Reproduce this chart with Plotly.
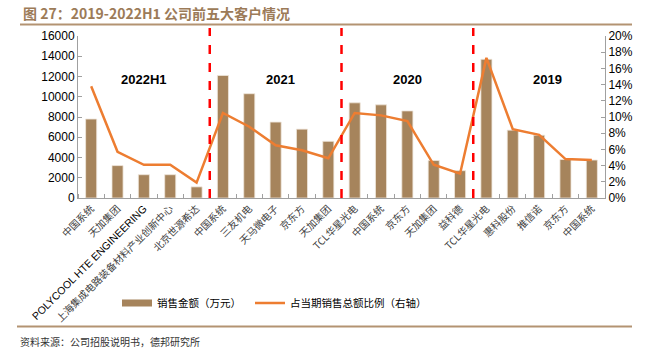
import plotly.graph_objects as go

categories = ["中国系统", "天加集团", "POLYCOOL HTE ENGINEERING", "上海集成电路装备材料产业创新中心", "北京世源希达",
              "中国系统", "三友机电", "天马微电子", "京东方", "天加集团",
              "TCL华星光电", "中国系统", "京东方", "天加集团", "益科德",
              "TCL华星光电", "惠科股份", "推信诺", "京东方", "中国系统"]
sales = [7800, 3200, 2300, 2300, 1100,
         12100, 10300, 7500, 6800, 5600,
         9400, 9200, 8600, 3700, 2700,
         13700, 6700, 6200, 3800, 3750]
ratio = [13.8, 5.7, 4.1, 4.1, 1.9,
         10.5, 8.8, 6.5, 5.9, 4.9,
         10.5, 10.2, 9.5, 4.1, 3.0,
         17.3, 8.5, 7.8, 4.8, 4.7]
groups = ["2022H1", "2021", "2020", "2019"]
group_pos = [2, 7.2, 12, 17.3]
dividers = [4.5, 9.5, 14.5]
left_ticks = list(range(0, 16001, 2000))
right_ticks = list(range(0, 21, 2))

x = list(range(len(categories)))

BAR = "#A6845C"
LINE = "#ED7D31"

# page pixel -> paper coordinates (plot area spans page x 78..605, y 36..198)
def px(X):
    return (X - 78) / 527.0

def py(Y):
    return (198 - Y) / 162.0

def fmt_label(t):
    if all(ord(c) < 128 for c in t):
        return '<span style="font-family:Liberation Sans, Arial;font-size:10.5px;color:#000000">%s</span>' % t
    return t

fig = go.Figure()
fig.add_trace(go.Bar(x=x, y=sales, name="销售金额（万元）", showlegend=False,
                     marker=dict(color=BAR, line=dict(color="#EFE6DA", width=0.8)), width=0.42))
# legend entry for the bars (wide swatch like the reference)
fig.add_trace(go.Scatter(x=[None], y=[None], name="销售金额（万元）", mode="lines",
                         line=dict(color=BAR, width=7), legend="legend"))
fig.add_trace(go.Scatter(x=x, y=ratio, name="占当期销售总额比例（右轴）", yaxis="y2", mode="lines",
                         line=dict(color=LINE, width=2.5), legend="legend2"))

shapes = []
for d in dividers:
    shapes.append(dict(type="line", xref="x", yref="paper", x0=d, x1=d, y0=0, y1=py(28),
                       line=dict(color="#FF0000", width=2.5, dash="dash")))
shapes.append(dict(type="line", xref="paper", yref="paper", x0=px(20), x1=px(632), y0=py(24.5), y1=py(24.5),
                   line=dict(color="#B39372", width=2)))
shapes.append(dict(type="line", xref="paper", yref="paper", x0=px(17), x1=px(632), y0=py(326.5), y1=py(326.5),
                   line=dict(color="#B39372", width=2)))

annotations = []
for g, p in zip(groups, group_pos):
    annotations.append(dict(x=p, y=py(70), xref="x", yref="paper", text="<b>%s</b>" % g, showarrow=False,
                            font=dict(family="Liberation Sans, Arial", size=13, color="#000000")))
annotations.append(dict(x=px(21), y=py(12.5), xref="paper", yref="paper", xanchor="left", yanchor="middle",
                        text="<b>图 27：2019-2022H1 公司前五大客户情况</b>", showarrow=False,
                        font=dict(family="Noto Sans CJK SC", size=14, color="#9C7B58")))
annotations.append(dict(x=px(18), y=py(341), xref="paper", yref="paper", xanchor="left", yanchor="middle",
                        text="资料来源：公司招股说明书，德邦研究所", showarrow=False,
                        font=dict(family="Noto Sans CJK SC", size=10, color="#333333")))

legend_font = dict(family="Noto Sans CJK SC", size=10.5, color="#000000")
fig.update_layout(
    width=650, height=355,
    margin=dict(l=78, r=45, t=36, b=157, autoexpand=False),
    paper_bgcolor="white", plot_bgcolor="white",
    showlegend=True,
    legend=dict(orientation="h", x=px(117), y=py(303), xanchor="left", yanchor="middle",
                font=legend_font, itemwidth=30, bgcolor="rgba(0,0,0,0)"),
    legend2=dict(orientation="h", x=px(250), y=py(303), xanchor="left", yanchor="middle",
                 font=legend_font, itemwidth=30, bgcolor="rgba(0,0,0,0)"),
    bargap=0.6,
    xaxis=dict(range=[-0.5, 19.5], tickvals=x, ticktext=[fmt_label(c) for c in categories], tickangle=-45,
               ticks="", showline=True, linecolor="#A0A0A0", linewidth=1, showgrid=False, zeroline=False,
               tickfont=dict(family="Noto Sans CJK SC", size=10, color="#404040"),
               minor=dict(tickvals=[i + 0.5 for i in range(-1, 20)], ticks="inside", ticklen=4,
                          tickcolor="#A0A0A0")),
    yaxis=dict(range=[0, 16000], tickvals=left_ticks, ticktext=[str(v) for v in left_ticks],
               ticks="inside", ticklen=4, tickcolor="#A0A0A0",
               showline=True, linecolor="#A0A0A0", linewidth=1, showgrid=False, zeroline=False,
               tickfont=dict(family="Liberation Sans, Arial", size=12, color="#000000")),
    yaxis2=dict(range=[0, 20], tickvals=right_ticks, ticktext=["%d%%" % v for v in right_ticks], overlaying="y",
                side="right", ticks="inside", ticklen=4, tickcolor="#A0A0A0",
                showline=True, linecolor="#A0A0A0", linewidth=1, showgrid=False, zeroline=False,
                tickfont=dict(family="Liberation Sans, Arial", size=12, color="#000000")),
    shapes=shapes, annotations=annotations,
)

fig.write_html("out.html", config={"displayModeBar": False},
               post_script="document.body.style.margin='0px';")
